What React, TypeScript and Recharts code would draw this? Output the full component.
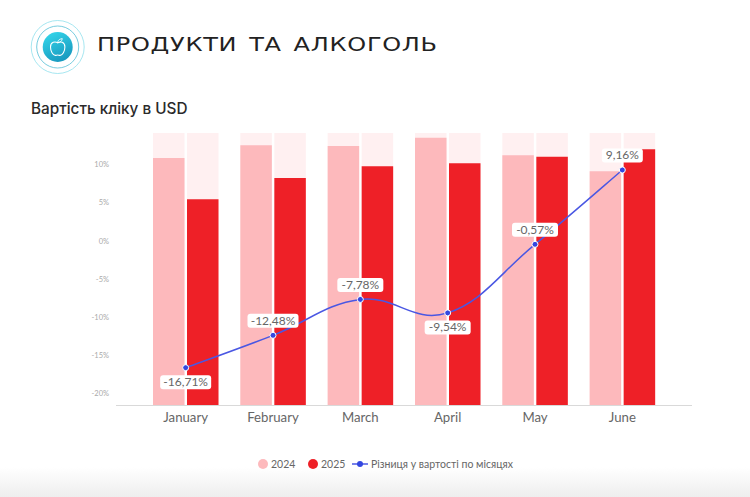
import {
  Bar,
  ComposedChart,
  LabelList,
  Legend,
  Line,
  XAxis,
  YAxis,
} from "recharts";

const MONTHS = ["January", "February", "March", "April", "May", "June"];
// bar heights have no printed scale, so they are read as a share of the pale track
const COST_2024 = [0.908, 0.955, 0.952, 0.983, 0.918, 0.86];
const COST_2025 = [0.757, 0.835, 0.878, 0.889, 0.913, 0.94];
const DIFF = [-16.71, -12.48, -7.78, -9.54, -0.57, 9.16];
const LABEL_BELOW = [true, false, false, true, false, false];
const Y_TICKS = [-20, -15, -10, -5, 0, 5, 10];

const RED_LIGHT = "#fdb9bc";
const RED = "#ee2027";
const TRACK = "#fff0f1";
const BLUE = "#4a57e3";
const FONT = "Lato, 'Noto Sans', sans-serif";

const data = MONTHS.map((month, i) => ({
  month,
  y2024: COST_2024[i],
  y2025: COST_2025[i],
  diff: DIFF[i],
}));

// the reference line overshoots past its turning points, which monotone can't do
function smoothCurve(context: any) {
  let pts: [number, number][] = [];
  const k = 0.2;
  return {
    lineStart() {
      pts = [];
    },
    lineEnd() {
      pts.forEach((p, i) => {
        if (i === 0) {
          context.moveTo(p[0], p[1]);
          return;
        }
        const p0 = pts[i - 2] ?? pts[i - 1];
        const p1 = pts[i - 1];
        const p3 = pts[i + 1] ?? p;
        context.bezierCurveTo(
          p1[0] + (p[0] - p0[0]) * k,
          p1[1] + (p[1] - p0[1]) * k,
          p[0] - (p3[0] - p1[0]) * k,
          p[1] - (p3[1] - p1[1]) * k,
          p[0],
          p[1]
        );
      });
    },
    point(x: number, y: number) {
      pts.push([x, y]);
    },
    areaStart() {},
    areaEnd() {},
  };
}

function DiffLabel({ x, y, value, index }: any) {
  const text = String(value).replace(".", ",") + "%";
  const w = text.length * 5 + 16;
  const cy = LABEL_BELOW[index] ? y + 14.5 : y - 14.5;
  return (
    <g>
      <rect x={x - w / 2} y={cy - 7} width={w} height={14} rx={3} fill="#fff" />
      <text
        x={x}
        y={cy + 4}
        textAnchor="middle"
        fontSize={12}
        fontFamily={FONT}
        fill="#666"
      >
        {text}
      </text>
    </g>
  );
}

function ChartLegend() {
  const item = { display: "flex", alignItems: "center", position: "absolute", top: 0 } as const;
  const dot = (c: string, s = 10) => (
    <span style={{ width: s, height: s, borderRadius: "50%", background: c, display: "block" }} />
  );
  return (
    <div style={{ position: "relative", height: 14, fontFamily: FONT, fontSize: 10.5, color: "#666", lineHeight: "14px" }}>
      <div style={{ ...item, left: 258, gap: 3 }}>{dot(RED_LIGHT)}2024</div>
      <div style={{ ...item, left: 308, gap: 3 }}>{dot(RED)}2025</div>
      <div style={{ ...item, left: 352, gap: 3 }}>
        <svg width={16} height={14}>
          <line x1={0} x2={16} y1={7} y2={7} stroke={BLUE} strokeWidth={1.5} />
          <circle cx={8} cy={7} r={3} fill="#3347e0" />
        </svg>
        Різниця у вартості по місяцях
      </div>
    </div>
  );
}

function Logo() {
  return (
    <svg width={60} height={60} style={{ position: "absolute", left: 28, top: 17 }}>
      <defs>
        <linearGradient id="logoFill" x1="0.2" y1="0" x2="0.7" y2="1">
          <stop offset="0%" stopColor="#34d6ea" />
          <stop offset="100%" stopColor="#1796bd" />
        </linearGradient>
      </defs>
      <circle cx={29.7} cy={30} r={26.5} fill="none" stroke="#8fe0ec" strokeWidth={0.8} />
      <circle cx={29.7} cy={30} r={21} fill="none" stroke="#55bfd6" strokeWidth={0.8} />
      <circle cx={29.7} cy={30} r={15} fill="url(#logoFill)" />
      <g transform="translate(29.7 30) scale(1.2) translate(-29.7 -30)">
        <path
          d="M29.7 26.5c-2-1.3-6-1-6 3.5 0 3.5 2 7 4 7 .8 0 1.3-.4 2-.4s1.200.4 2 .4c2 0 4-3.500 4-7 0-4.500-4-4.800-6-3.500z"
          fill="none"
          stroke="#fff"
          strokeWidth={0.9}
        />
        <path d="M29.700 26.500c0-1.500.7-3 3.800-3.500-.2 2-1.500 3.200-3.800 3.500z" fill="none" stroke="#fff" strokeWidth={0.7} />
      </g>
    </svg>
  );
}

export default function App() {
  return (
    <div
      style={{
        position: "absolute",
        left: 0,
        top: 0,
        width: 750,
        height: 497,
        background: "#fff",
        overflow: "hidden",
      }}
    >
      <div
        style={{
          position: "absolute",
          left: 0,
          right: 0,
          bottom: 0,
          height: 30,
          background: "linear-gradient(#ffffff, #eeeeee)",
        }}
      />
      <Logo />
      <div
        style={{
          position: "absolute",
          left: 97,
          top: 30,
          fontFamily: "'DejaVu Sans', sans-serif",
          fontSize: 20,
          lineHeight: "28px",
          letterSpacing: 0.6,
          wordSpacing: 3,
          color: "#222",
          whiteSpace: "nowrap",
          transform: "scaleX(1.2)",
          transformOrigin: "left center",
        }}
      >
        ПРОДУКТИ ТА АЛКОГОЛЬ
      </div>
      <div
        style={{
          position: "absolute",
          left: 31,
          top: 99,
          fontFamily: "Inter, sans-serif",
          fontSize: 15.3,
          fontWeight: 500,
          lineHeight: "20px",
          color: "#2a2a2a",
          whiteSpace: "nowrap",
        }}
      >
        Вартість кліку в USD
      </div>
      <div style={{ position: "absolute", left: 0, top: 0 }}>
        <ComposedChart
          width={750}
          height={497}
          data={data}
          barSize={31.5}
          barGap={2.5}
          margin={{ top: 133, right: 58, bottom: 46, left: 0 }}
        >
          <XAxis
            dataKey="month"
            height={31.5}
            padding={{ left: 26, right: 26 }}
            tick={{ fill: "#666", fontSize: 13.2, fontFamily: FONT }}
            tickLine={false}
            tickMargin={1}
            axisLine={{ stroke: "#d9d9d9", strokeWidth: 1 }}
          />
          <YAxis
            yAxisId="diff"
            width={116}
            domain={[-21.66, 14]}
            ticks={Y_TICKS}
            tickFormatter={(v) => `${v}%`}
            tick={{ fill: "#aaa", fontSize: 7.5, fontFamily: FONT, dy: 1 }}
            tickLine={false}
            axisLine={false}
            tickMargin={1}
          />
          <YAxis yAxisId="bars" hide domain={[0, 1]} orientation="right" />
          <Bar
            yAxisId="bars"
            dataKey="y2024"
            fill={RED_LIGHT}
            background={{ fill: TRACK }}
            isAnimationActive={false}
          />
          <Bar
            yAxisId="bars"
            dataKey="y2025"
            fill={RED}
            background={{ fill: TRACK }}
            isAnimationActive={false}
          />
          <Line
            yAxisId="diff"
            dataKey="diff"
            type={smoothCurve as any}
            stroke={BLUE}
            strokeWidth={1.5}
            dot={{ r: 3, fill: "#3347e0", stroke: "#fff", strokeWidth: 1 }}
            isAnimationActive={false}
          >
            <LabelList dataKey="diff" content={<DiffLabel />} />
          </Line>
          <Legend
            content={<ChartLegend />}
            wrapperStyle={{ position: "absolute", left: 0, top: 457, width: 750 }}
          />
        </ComposedChart>
      </div>
    </div>
  );
}
